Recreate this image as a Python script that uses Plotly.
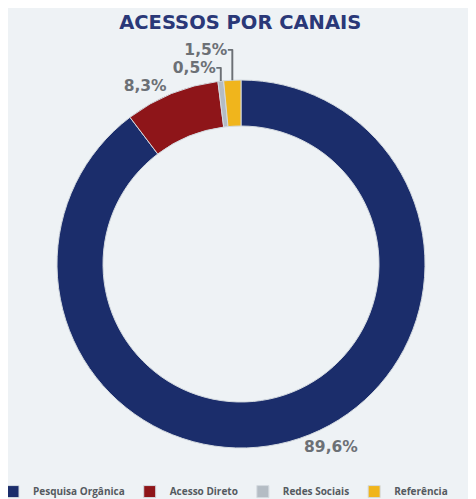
"""Donut chart: website access share by channel."""

import plotly.graph_objects as go

channels = ["Pesquisa Orgânica", "Acesso Direto", "Redes Sociais", "Referência"]
shares = [89.6, 8.3, 0.5, 1.5]
colors = ["#1b2d6b", "#8e1519", "#b4bcc4", "#f0b51c"]

BG = "#eef2f5"

fig = go.Figure()
fig.add_trace(
    go.Pie(
        labels=channels,
        values=shares,
        hole=0.75,
        sort=False,
        direction="clockwise",
        rotation=0,
        domain={"x": [49 / 476, 417 / 476], "y": [0, 1]},
        marker={"colors": colors, "line": {"color": "#d4dae0", "width": 1}},
        texttemplate="%{value:.1f}%",
        textposition="outside",
        textfont={"family": "DejaVu Sans", "size": 15.5, "color": "#6c7075", "weight": "bold"},
        automargin=False,
        hovertemplate="%{label}: %{value:.1f}%<extra></extra>",
    )
)
# page body adds an 8px offset, so margins are shifted to compensate;
# full-width plot area lets the legend stay on one row
fig.update_layout(
    width=476,
    height=499,
    separators=",.",
    paper_bgcolor=BG,
    plot_bgcolor=BG,
    margin={"l": 0, "r": 0, "t": 72, "b": 59, "autoexpand": False},
    title={
        "text": "<b>ACESSOS POR CANAIS</b>",
        "x": 0.488,
        "xref": "container",
        "xanchor": "center",
        "y": 0.972,
        "yanchor": "middle",
        "font": {"family": "DejaVu Sans", "size": 19.5, "color": "#2a3878"},
    },
    legend={
        "orientation": "h",
        "x": -0.0315,
        "xanchor": "left",
        "y": -0.079,
        "yanchor": "top",
        "font": {"family": "Open Sans", "size": 10, "color": "#555a60", "weight": "bold"},
        "itemwidth": 30,
        "bgcolor": "rgba(0,0,0,0)",
    },
)

fig.write_html("out.html")
